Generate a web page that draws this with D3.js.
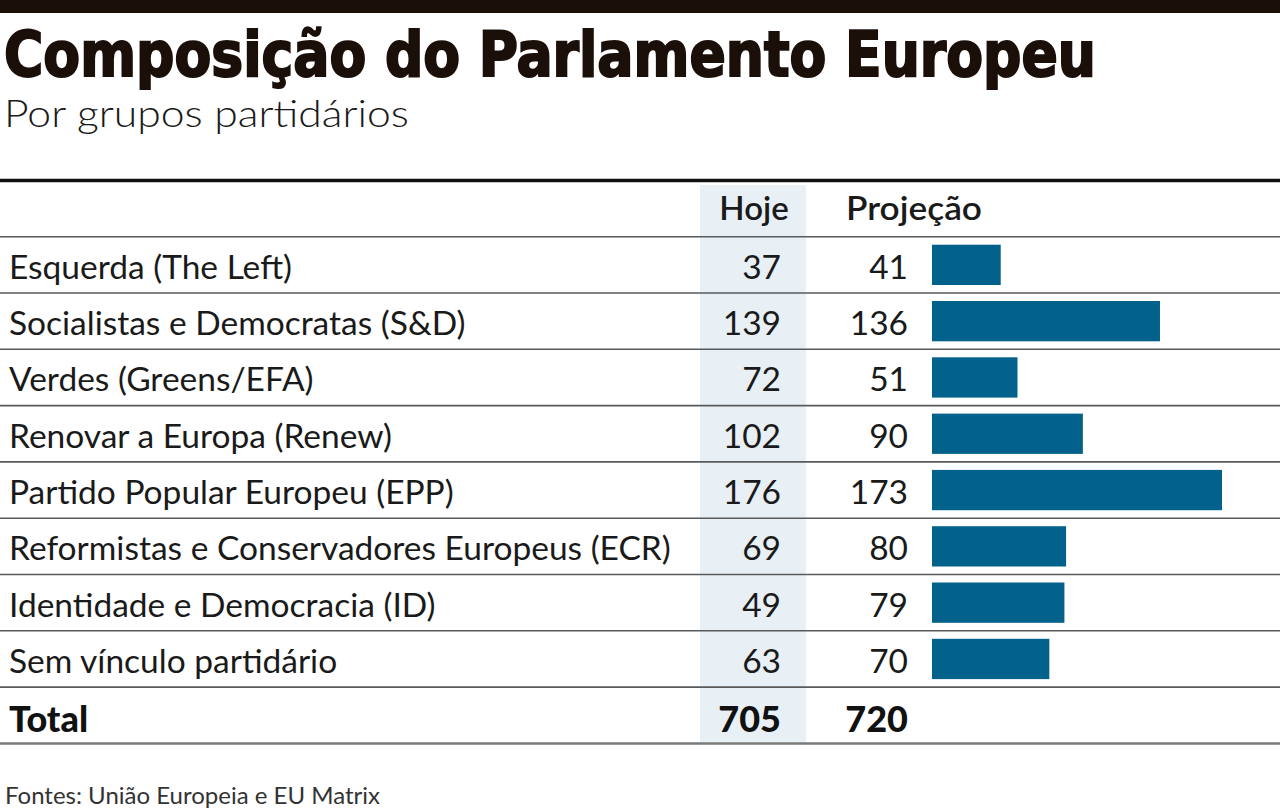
<!DOCTYPE html>
<html>
<head>
<meta charset="utf-8">
<script src="https://cdn.jsdelivr.net/npm/d3@7"></script>
<style>
  html, body { margin: 0; padding: 0; background: #ffffff; }
  svg { display: block; }
</style>
</head>
<body>
<svg id="chart" width="1280" height="810"></svg>
<script>
// ---- data ----
const title = "Composição do Parlamento Europeu";
const subtitle = "Por grupos partidários";
const source = "Fontes: União Europeia e EU Matrix";
const columnHeaders = ["Hoje", "Projeção"];
const categories = [
  "Esquerda (The Left)",
  "Socialistas e Democratas (S&D)",
  "Verdes (Greens/EFA)",
  "Renovar a Europa (Renew)",
  "Partido Popular Europeu (EPP)",
  "Reformistas e Conservadores Europeus (ECR)",
  "Identidade e Democracia (ID)",
  "Sem vínculo partidário"
];
const hoje = [37, 139, 72, 102, 176, 69, 49, 63];
const projecao = [41, 136, 51, 90, 173, 80, 79, 70];
const totalLabel = "Total";
const totals = [705, 720];

// ---- layout ----
const W = 1280, H = 810;
const svg = d3.select("#chart");
const dark = "#1b0f0a";
const textColor = "#1a1a1a";
const barColor = "#03628b";
const bodyFont = "Lato, 'Noto Sans', sans-serif";

const headerTop = 181, firstRowTop = 236.7, rowH = 56.3;
const nRows = categories.length;
const totalTop = firstRowTop + nRows * rowH;
const tableBottom = totalTop + rowH;

const hojeX0 = 700, hojeX1 = 806, hojeRight = 781, projRight = 908;
const barX0 = 932;

const y = d3.scaleBand()
  .domain(d3.range(nRows))
  .range([firstRowTop, totalTop])
  .paddingInner(0).paddingOuter(0);

const x = d3.scaleLinear()
  .domain([0, d3.max(projecao)])
  .range([barX0, 1222]);

// top bar
svg.append("rect").attr("x", 0).attr("y", 0).attr("width", W).attr("height", 13).attr("fill", dark);

// title
svg.append("text")
  .attr("x", 4).attr("y", 76)
  .attr("font-family", "'DejaVu Sans Condensed', 'DejaVu Sans', sans-serif")
  .attr("font-weight", "bold")
  .attr("font-size", 63)
  .attr("fill", dark)
  .attr("stroke", dark).attr("stroke-width", 2)
  .attr("textLength", 1092).attr("lengthAdjust", "spacingAndGlyphs")
  .text(title);

// subtitle
svg.append("text")
  .attr("x", 4).attr("y", 127)
  .attr("font-family", bodyFont)
  .attr("font-weight", 300)
  .attr("font-size", 38)
  .attr("fill", textColor)
  .attr("textLength", 405).attr("lengthAdjust", "spacingAndGlyphs")
  .text(subtitle);

// Hoje column background
svg.append("rect")
  .attr("x", hojeX0).attr("y", headerTop + 4)
  .attr("width", hojeX1 - hojeX0).attr("height", tableBottom - headerTop - 5)
  .attr("fill", "#e8f0f6");

// header line
svg.append("line")
  .attr("x1", 0).attr("x2", W).attr("y1", 180.5).attr("y2", 180.5)
  .attr("stroke", "#111").attr("stroke-width", 3.5);

// column headers
svg.append("text")
  .attr("x", (hojeX0 + hojeX1) / 2 + 1).attr("y", 220)
  .attr("text-anchor", "middle")
  .attr("font-family", bodyFont).attr("font-weight", 600)
  .attr("font-size", 33).attr("fill", textColor)
  .text(columnHeaders[0]);
svg.append("text")
  .attr("x", 846).attr("y", 220)
  .attr("font-family", bodyFont).attr("font-weight", 600)
  .attr("font-size", 33).attr("fill", textColor)
  .attr("textLength", 136).attr("lengthAdjust", "spacingAndGlyphs")
  .text(columnHeaders[1]);

// row separators
const lineYs = d3.range(nRows + 1).map(i => firstRowTop + i * rowH);
svg.selectAll("line.sep")
  .data(lineYs)
  .join("line")
  .attr("class", "sep")
  .attr("x1", 0).attr("x2", W)
  .attr("y1", d => d).attr("y2", d => d)
  .attr("stroke", "#5a5a5a").attr("stroke-width", 1.6);

// bottom line
svg.append("line")
  .attr("x1", 0).attr("x2", W).attr("y1", tableBottom).attr("y2", tableBottom)
  .attr("stroke", "#7a7a7a").attr("stroke-width", 2.5);

// rows
const rows = svg.selectAll("g.row")
  .data(categories.map((c, i) => ({ c, h: hoje[i], p: projecao[i], i })))
  .join("g")
  .attr("class", "row");

const baseOff = 42;
const labelSize = 33.5;

rows.append("text")
  .attr("x", 9).attr("y", d => y(d.i) + baseOff)
  .attr("font-family", bodyFont).attr("font-size", labelSize)
  .attr("fill", textColor)
  .text(d => d.c);

rows.append("text")
  .attr("x", hojeRight).attr("y", d => y(d.i) + baseOff)
  .attr("text-anchor", "end")
  .attr("font-family", bodyFont).attr("font-size", labelSize)
  .attr("fill", textColor)
  .text(d => d.h);

rows.append("text")
  .attr("x", projRight).attr("y", d => y(d.i) + baseOff)
  .attr("text-anchor", "end")
  .attr("font-family", bodyFont).attr("font-size", labelSize)
  .attr("fill", textColor)
  .text(d => d.p);

rows.append("rect")
  .attr("x", x(0))
  .attr("y", d => y(d.i) + 8)
  .attr("width", d => x(d.p) - x(0))
  .attr("height", y.bandwidth() - 16)
  .attr("fill", barColor);

// total row
const tBase = totalTop + 45;
svg.append("text")
  .attr("x", 9).attr("y", tBase)
  .attr("font-family", bodyFont).attr("font-weight", 900)
  .attr("font-size", 36).attr("fill", "#111")
  .text(totalLabel);
svg.append("text")
  .attr("x", hojeRight).attr("y", tBase)
  .attr("text-anchor", "end")
  .attr("font-family", bodyFont).attr("font-weight", 900)
  .attr("font-size", 36).attr("fill", "#111")
  .text(totals[0]);
svg.append("text")
  .attr("x", projRight).attr("y", tBase)
  .attr("text-anchor", "end")
  .attr("font-family", bodyFont).attr("font-weight", 900)
  .attr("font-size", 36).attr("fill", "#111")
  .text(totals[1]);

// source
svg.append("text")
  .attr("x", 5).attr("y", 804)
  .attr("font-family", bodyFont).attr("font-size", 24)
  .attr("fill", "#333")
  .text(source);
</script>
</body>
</html>
